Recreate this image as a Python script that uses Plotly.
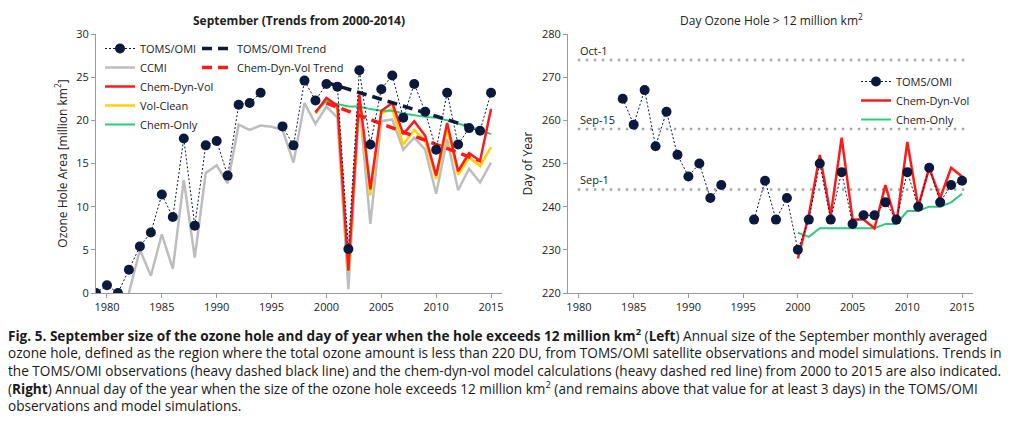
import plotly.graph_objects as go

# ---------------- data ----------------
years_all = list(range(1979, 2016))
toms_area = [0.0, 0.9, 0.0, 2.7, 5.4, 7.0, 11.4, 8.8, 17.9, 7.8, 17.1, 17.6, 13.6, 21.8, 22.0, 23.2,
             None, 19.3, 17.1, 24.6, 22.3, 24.2, 23.9, 5.1, 25.8, 17.2, 23.6, 25.2, 20.3, 24.2,
             21.0, 16.6, 23.2, 17.2, 19.1, 18.8, 23.2]

years_ccmi = list(range(1982, 2016))
ccmi_area = [0.0, 5.0, 2.0, 6.8, 2.8, 13.1, 4.1, 13.9, 14.8, 12.7, 19.5, 18.9, 19.4, 19.25, 18.9,
             15.1, 22.0, 19.6, 21.6, 20.3, 0.45, 22.0, 8.0, 19.9, 20.1, 16.6, 18.0, 16.6, 11.5,
             17.8, 11.9, 14.4, 12.8, 15.1]

years_model = list(range(1999, 2016))
cdv_area = [20.9, 22.6, 21.7, 2.6, 23.0, 12.0, 21.1, 22.0, 18.4, 19.9, 18.2, 13.6, 19.7, 14.1,
            16.2, 15.3, 21.3]
volclean_area = [20.8, 22.5, 21.6, 2.4, 22.7, 11.3, 20.8, 21.3, 17.2, 18.9, 17.6, 13.2, 19.1,
                 13.7, 15.7, 14.7, 16.9]
chemonly_area = [21.0, 22.2, 21.9, 21.6, 21.6, 21.3, 21.1, 21.1, 20.8, 20.6, 20.4, 20.3, 20.0,
                 19.6, 19.3, 18.9, 18.4]

trend_years = [2000, 2014]
toms_trend = [24.4, 18.9]
cdv_trend = [22.0, 15.3]

toms_day = [None, None, None, None, None, 265, 259, 267, 254, 262, 252, 247, 250, 242, 245,
            None, None, 237, 246, 237, 242, 230, 237, 250, 237, 248, 236, 238, 238, 241, 237,
            248, 240, 249, 241, 245, 246]
cdv_day = [None, 228, 238, 252, 238, 256, 237, 237, 235, 245, 236, 255, 240, 249, 242, 249, 247]
chemonly_day = [None, 234, 233, 235, 235, 235, 235, 235, 235, 236, 236, 239, 239, 240, 240, 241, 243]

ref_days = [274, 258, 244]
ref_labels = ["Oct-1", "Sep-15", "Sep-1"]
ref_x = [1979.9, 2015.5]

x_ticks = [1980, 1985, 1990, 1995, 2000, 2005, 2010, 2015]
area_ticks = [0, 5, 10, 15, 20, 25, 30]
day_ticks = [220, 230, 240, 250, 260, 270, 280]

# ---------------- style ----------------
NAVY = "#0b1a3c"
GRAY = "#bdbdbd"
RED = "#ff1a1a"
YELLOW = "#ffd200"
GREEN = "#2fcb7a"
FONT = "Open Sans"
TXT = "#222222"

fig = go.Figure()

# ----- left panel -----
fig.add_trace(go.Scatter(x=years_ccmi, y=ccmi_area, mode="lines", name="CCMI",
                         line=dict(color=GRAY, width=2.5), legend="legend", legendrank=2,
                         xaxis="x", yaxis="y"))
fig.add_trace(go.Scatter(x=years_model, y=volclean_area, mode="lines", name="Vol-Clean",
                         line=dict(color=YELLOW, width=2.5), legend="legend", legendrank=4,
                         xaxis="x", yaxis="y"))
fig.add_trace(go.Scatter(x=years_model, y=chemonly_area, mode="lines", name="Chem-Only",
                         line=dict(color=GREEN, width=2), legend="legend", legendrank=5,
                         xaxis="x", yaxis="y"))
fig.add_trace(go.Scatter(x=years_model, y=cdv_area, mode="lines", name="Chem-Dyn-Vol",
                         line=dict(color=RED, width=2.5), legend="legend", legendrank=3,
                         xaxis="x", yaxis="y"))
fig.add_trace(go.Scatter(x=trend_years, y=toms_trend, mode="lines", name="TOMS/OMI Trend",
                         line=dict(color=NAVY, width=3.5, dash="10px,6px"), legend="legend2",
                         legendrank=1, xaxis="x", yaxis="y"))
fig.add_trace(go.Scatter(x=trend_years, y=cdv_trend, mode="lines", name="Chem-Dyn-Vol Trend",
                         line=dict(color=RED, width=3.5, dash="10px,6px"), legend="legend2",
                         legendrank=2, xaxis="x", yaxis="y"))
fig.add_trace(go.Scatter(x=years_all, y=toms_area, mode="lines+markers", name="TOMS/OMI",
                         line=dict(color=NAVY, width=1, dash="2px,2px"),
                         marker=dict(color=NAVY, size=10), connectgaps=False,
                         legend="legend", legendrank=1, xaxis="x", yaxis="y"))

# ----- right panel -----
for d in ref_days:
    fig.add_trace(go.Scatter(x=ref_x, y=[d, d], mode="lines", showlegend=False, hoverinfo="skip",
                             line=dict(color="#a8a8a8", width=2.5, dash="2.5px,5.5px"),
                             xaxis="x2", yaxis="y2"))
fig.add_trace(go.Scatter(x=years_model, y=chemonly_day, mode="lines", name="Chem-Only",
                         line=dict(color=GREEN, width=2), legend="legend3", legendrank=3,
                         xaxis="x2", yaxis="y2"))
fig.add_trace(go.Scatter(x=years_model, y=cdv_day, mode="lines", name="Chem-Dyn-Vol",
                         line=dict(color=RED, width=2.5), legend="legend3", legendrank=2,
                         xaxis="x2", yaxis="y2"))
fig.add_trace(go.Scatter(x=years_all, y=toms_day, mode="lines+markers", name="TOMS/OMI",
                         line=dict(color=NAVY, width=1, dash="2px,2px"),
                         marker=dict(color=NAVY, size=10), connectgaps=False,
                         legend="legend3", legendrank=1, xaxis="x2", yaxis="y2"))

axis_common = dict(showgrid=False, zeroline=False, showline=True, linecolor="#9a9a9a",
                   linewidth=1, ticks="outside", ticklen=4, tickcolor="#9a9a9a",
                   tickfont=dict(family=FONT, size=11, color=TXT))

W, H = 1019, 425
def px_x(p):
    return p / W
def px_y(p):
    return 1 - p / H

leg_common = dict(bgcolor="rgba(0,0,0,0)", borderwidth=0,
                  font=dict(family=FONT, size=11, color=TXT), itemwidth=30,
                  xanchor="left", yanchor="top", tracegroupgap=0)

annotations = []
for d, lab in zip(ref_days, ref_labels):
    annotations.append(dict(x=1979.9, y=d, xref="x2", yref="y2", text=lab, showarrow=False,
                            xanchor="left", yanchor="bottom", yshift=0,
                            font=dict(family=FONT, size=11, color=TXT)))

annotations.append(dict(x=px_x(299), y=px_y(20), xref="paper", yref="paper",
                        text="<b>September (Trends from 2000-2014)</b>", showarrow=False,
                        xanchor="center", yanchor="middle",
                        font=dict(family=FONT, size=12, color=TXT)))
annotations.append(dict(x=px_x(771), y=px_y(20), xref="paper", yref="paper",
                        text="Day Ozone Hole > 12 million km<sup>2</sup>", showarrow=False,
                        xanchor="center", yanchor="middle",
                        font=dict(family=FONT, size=12, color=TXT)))

caption_lines = [
    "<b>Fig. 5. September size of the ozone hole and day of year when the hole exceeds 12 million km<sup>2</sup></b> (<b>Left</b>) Annual size of the September monthly averaged",
    "ozone hole, defined as the region where the total ozone amount is less than 220 DU, from TOMS/OMI satellite observations and model simulations. Trends in",
    "the TOMS/OMI observations (heavy dashed black line) and the chem-dyn-vol model calculations (heavy dashed red line) from 2000 to 2015 are also indicated.",
    "(<b>Right</b>) Annual day of the year when the size of the ozone hole exceeds 12 million km<sup>2</sup> (and remains above that value for at least 3 days) in the TOMS/OMI",
    "observations and model simulations.",
]
annotations.append(dict(x=px_x(7), y=px_y(324), xref="paper", yref="paper",
                        text="<br>".join(caption_lines), align="left",
                        showarrow=False, xanchor="left", yanchor="top", borderpad=0,
                        font=dict(family="Open Sans", size=13.6, color="#1a1a1a")))

fig.update_layout(
    width=W, height=H, autosize=False,
    margin=dict(l=0, r=0, t=0, b=0, autoexpand=False),
    paper_bgcolor="white", plot_bgcolor="white",
    font=dict(family=FONT, color=TXT),
    xaxis=dict(domain=[px_x(96), px_x(502)], range=[1979, 2016], tickvals=x_ticks,
               anchor="y", **axis_common),
    yaxis=dict(domain=[px_y(293), px_y(34)], range=[0, 30], tickvals=area_ticks, anchor="x",
               title=dict(text="Ozone Hole Area [million km<sup>2</sup>]", standoff=6,
                          font=dict(family=FONT, size=12, color=TXT)), **axis_common),
    xaxis2=dict(domain=[px_x(568), px_x(973)], range=[1979, 2016], tickvals=x_ticks,
                anchor="y2", **axis_common),
    yaxis2=dict(domain=[px_y(293), px_y(34)], range=[220, 280], tickvals=day_ticks, anchor="x2",
                title=dict(text="Day of Year", standoff=6,
                           font=dict(family=FONT, size=12, color=TXT)), **axis_common),
    legend=dict(x=px_x(100), y=px_y(34), **leg_common),
    legend2=dict(x=px_x(197), y=px_y(34), **leg_common),
    legend3=dict(x=px_x(856), y=px_y(67), **leg_common),
    annotations=annotations,
    showlegend=True,
)

fig.write_html("out.html", config={"displayModeBar": False},
               post_script="document.body.style.margin='0';")
